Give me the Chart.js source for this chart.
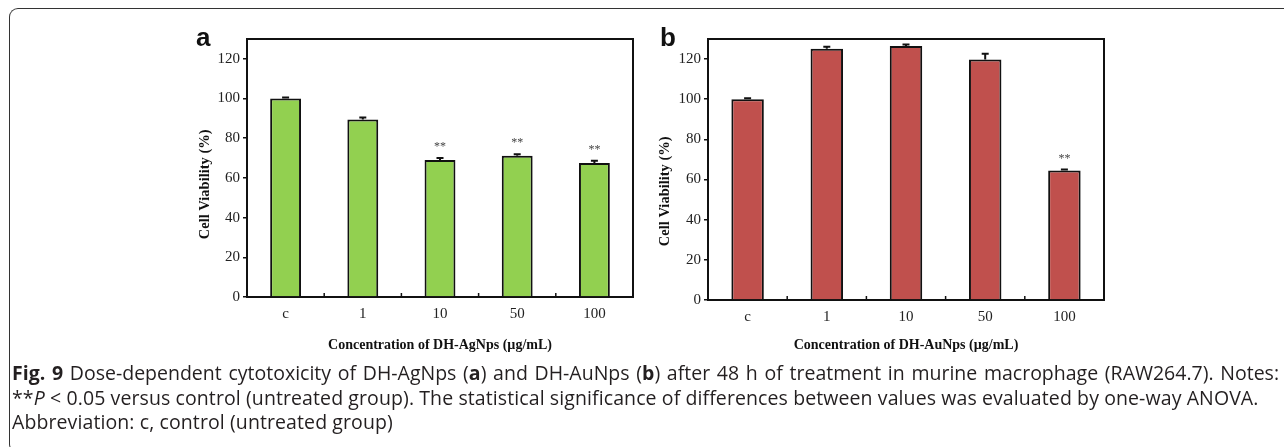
<!DOCTYPE html>
<html>
<head>
<meta charset="utf-8">
<script src="https://cdn.jsdelivr.net/npm/chart.js@4"></script>
<style>
  html, body { margin:0; padding:0; background:#fff; }
  body { width:1284px; height:447px; position:relative; overflow:hidden; }
  .frame { position:absolute; left:9px; top:8px; width:1300px; height:445px;
    border:1.5px solid #333; border-right:none; border-radius:9px 0 0 9px; box-sizing:border-box; }
  .panel { position:absolute; top:0; }
  .letter { position:absolute; font-family:"Liberation Sans", Arial, sans-serif; font-weight:bold;
    font-size:26px; color:#111; line-height:1; }
  .caption { position:absolute; left:12px; top:361px; font-family:"Open Sans", sans-serif;
    font-size:19.5px; line-height:24.5px; color:#231f20; letter-spacing:0.1px; }
  .caption div { white-space:nowrap; }
  .caption .just { width:1267px; text-align:justify; text-align-last:justify; letter-spacing:0; }
</style>
</head>
<body>
<div class="frame"></div>
<div class="panel" style="left:185px;width:460px;height:360px"><canvas id="chartA" width="460" height="360"></canvas></div>
<div class="panel" style="left:640px;width:480px;height:360px"><canvas id="chartB" width="480" height="360"></canvas></div>
<div class="letter" style="left:196px;top:24px">a</div>
<div class="letter" style="left:660px;top:24px">b</div>
<div class="caption">
  <div class="just"><b>Fig. 9</b> Dose-dependent cytotoxicity of DH-AgNps (<b>a</b>) and DH-AuNps (<b>b</b>) after 48 h of treatment in murine macrophage (RAW264.7). Notes:</div>
  <div>**<i>P</i> &lt; 0.05 versus control (untreated group). The statistical significance of differences between values was evaluated by one-way ANOVA.</div>
  <div>Abbreviation: c, control (untreated group)</div>
</div>
<script>
// ===== Data =====
const categories = ["c", "1", "10", "50", "100"];
const yTicks = [0, 20, 40, 60, 80, 100, 120];

const agValues = [100, 89.5, 69.0, 71.2, 67.5];
const agErrors = [0.5, 1.0, 1.0, 0.7, 1.2];
const agSig = ["", "", "**", "**", "**"];

const auValues = [100, 125.2, 126.5, 119.8, 64.5];
const auErrors = [0.5, 1.0, 0.8, 2.8, 0.5];
const auSig = ["", "", "", "", "**"];

const SERIF = "'Liberation Serif', 'Times New Roman', serif";

// error bars, significance marks, plot box and inward x ticks
const extras = {
  id: "extras",
  afterDatasetsDraw(chart) {
    const {ctx, chartArea: a, scales: {x, y}} = chart;
    const ds = chart.data.datasets[0];
    ctx.save();
    ctx.strokeStyle = "#111";
    ctx.lineWidth = 2;
    // box top + right
    ctx.beginPath();
    ctx.moveTo(a.left, a.top); ctx.lineTo(a.right, a.top); ctx.lineTo(a.right, a.bottom);
    ctx.stroke();
    // inward ticks between categories
    ctx.lineWidth = 1.5;
    for (let i = 1; i < categories.length; i++) {
      const px = (x.getPixelForValue(i - 1) + x.getPixelForValue(i)) / 2;
      ctx.beginPath(); ctx.moveTo(px, a.bottom); ctx.lineTo(px, a.bottom - 4); ctx.stroke();
    }
    ctx.lineWidth = 2;
    ds.data.forEach((v, i) => {
      const px = x.getPixelForValue(i);
      const y0 = y.getPixelForValue(v);
      const y1 = y.getPixelForValue(v + ds.errors[i]);
      ctx.beginPath();
      ctx.moveTo(px, y0); ctx.lineTo(px, y1);
      ctx.moveTo(px - 3.5, y1); ctx.lineTo(px + 3.5, y1);
      ctx.stroke();
      if (ds.marks[i]) {
        ctx.fillStyle = "#444";
        ctx.font = "12px " + SERIF;
        ctx.textAlign = "center";
        ctx.textBaseline = "middle";
        ctx.fillText(ds.marks[i], px, y1 - 11);
      }
    });
    ctx.restore();
  }
};

function makeChart(id, values, errors, marks, color, xTitle, opt) {
  return new Chart(document.getElementById(id), {
    type: "bar",
    data: {
      labels: categories,
      datasets: [{
        data: values, errors, marks,
        backgroundColor: color, borderColor: "#111", borderWidth: 2, borderSkipped: "bottom",
        categoryPercentage: 1, barPercentage: opt.barPct
      }]
    },
    options: {
      responsive: false, animation: false,
      layout: { padding: { left: 0, top: opt.top, right: opt.right, bottom: 0 } },
      plugins: { legend: { display: false }, tooltip: { enabled: false } },
      scales: {
        x: {
          offset: true,
          grid: { display: false, drawTicks: false },
          border: { display: true, color: "#111", width: 2 },
          ticks: { color: "#222", font: { family: SERIF, size: 15 }, padding: 8, maxRotation: 0 },
          title: { display: true, text: xTitle, color: "#111",
            font: { family: SERIF, size: 14, weight: "bold" }, padding: { top: 0, bottom: opt.xTitlePad } },
          afterFit: s => { s.height = opt.xHeight; }
        },
        y: {
          min: 0, max: 130,
          afterBuildTicks: s => { s.ticks = yTicks.map(v => ({ value: v })); },
          grid: { drawOnChartArea: false, drawTicks: true, tickLength: 4, color: "#111", lineWidth: 1.5 },
          border: { display: true, color: "#111", width: 2 },
          ticks: { color: "#222", font: { family: SERIF, size: 15 }, padding: 3 },
          title: { display: true, text: "Cell Viability (%)" + opt.ySpaces, color: "#111",
            font: { family: SERIF, size: 14.5, weight: "bold" }, padding: { top: opt.yTitlePad, bottom: 0 } },
          afterFit: s => { s.width = opt.yWidth; }
        }
      }
    },
    plugins: [extras]
  });
}

makeChart("chartA", agValues, agErrors, agSig, "#92D050", "Concentration of DH-AgNps (\u00b5g/mL)",
  { top: 39, right: 12, xHeight: 63, yWidth: 62, barPct: 0.4, xTitlePad: 6, yTitlePad: 11.5, ySpaces: "         " });
makeChart("chartB", auValues, auErrors, auSig, "#C0504D", "Concentration of DH-AuNps (\u00b5g/mL)",
  { top: 39, right: 16, xHeight: 60, yWidth: 68, barPct: 0.41, xTitlePad: 6.5, yTitlePad: 16.5, ySpaces: "            " });
</script>
</body>
</html>
